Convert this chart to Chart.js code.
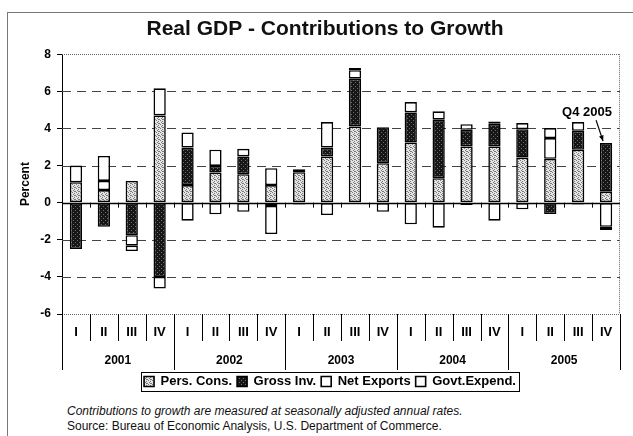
<!DOCTYPE html>
<html>
<head>
<meta charset="utf-8">
<script src="https://cdn.jsdelivr.net/npm/chart.js@4/dist/chart.umd.min.js"></script>
<style>
    body { margin: 0; background: #fff; }
    #wrap { position: relative; width: 633px; height: 436px; overflow: hidden; font-family: "Liberation Sans", Arial, sans-serif; }
    #frame { position: absolute; left: 7px; top: 12px; width: 700px; height: 500px; border-left: 1px solid #777; border-top: 1px solid #777; }
    #gdpChart { position: absolute; left: 0; top: 0; }
    .note { position: absolute; left: 67px; font-size: 12px; line-height: 14px; color: #111; white-space: nowrap; }
</style>
</head>
<body>
<div id="wrap">
    <div id="frame"></div>
    <canvas id="gdpChart" width="633" height="400"></canvas>
    <div class="note" style="top:404px;font-style:italic;">Contributions to growth are measured at seasonally adjusted annual rates.</div>
    <div class="note" style="top:419px;">Source: Bureau of Economic Analysis, U.S. Department of Commerce.</div>
</div>
<script>
const years = ['2001', '2002', '2003', '2004', '2005'];
const quarters = ['I', 'II', 'III', 'IV'];
const yTicks = [-6, -4, -2, 0, 2, 4, 6, 8];

// Contributions to real GDP growth, percentage points, 2001 Q1 .. 2005 Q4
const persCons   = [1.10, 0.68, 1.17, 4.70, 0.95, 1.62, 1.53, 0.95, 1.64, 2.49, 4.11, 2.13, 3.24, 1.32, 3.03, 3.03, 2.43, 2.36, 2.85, 0.59];
const grossInv   = [-2.50, -1.30, -1.75, -4.00, 2.02, 0.36, 0.96, -0.18, 0.16, 0.48, 2.57, 1.94, 1.62, 3.15, 0.90, 1.22, 1.53, -0.61, 1.02, 2.62];
const netExports = [0.00, 0.49, -0.57, -0.63, -0.97, -0.63, -0.49, -1.51, -0.10, -0.67, 0.46, -0.49, -1.17, -1.35, -0.13, -0.97, -0.36, 1.12, -0.10, -1.30];
const govtExpend = [0.90, 1.35, -0.29, 1.46, 0.81, 0.87, 0.41, 0.91, 0.00, 1.37, 0.12, 0.00, 0.56, 0.45, 0.30, 0.13, 0.33, 0.54, 0.47, -0.18];

const calloutText = 'Q4 2005';

const labels = years.flatMap(yr => quarters.map(q => q + ' ' + yr));
const FONT = '"Liberation Sans", Arial, sans-serif';
Chart.defaults.font.family = FONT;
Chart.defaults.color = '#000';

// stippled fills like the printed shading
function makeStipple(bg, dot, cells) {
    const c = document.createElement('canvas');
    c.width = 4;
    c.height = 4;
    const g = c.getContext('2d');
    g.fillStyle = bg;
    g.fillRect(0, 0, 4, 4);
    g.fillStyle = dot;
    cells.forEach(([x, y]) => g.fillRect(x, y, 1, 1));
    return g.createPattern(c, 'repeat');
}
const persFill = makeStipple('#e4e4e4', '#7a7a7a', [[0, 0], [2, 1], [1, 2], [3, 3], [2, 3]]);
const grossFill = makeStipple('#161616', '#6e6e6e', [[1, 0], [3, 2]]);

// dashed grid, dotted frame, solid zero line with small ticks
const gridLines = {
    id: 'gridLines',
    afterLayout(chart) {
        // title and legend sit a little right of the canvas centre
        chart.titleBlock.left += 11;
        chart.titleBlock.right += 11;
        chart.legend.left += 16;
        chart.legend.right += 16;
    },
    beforeDatasetsDraw(chart) {
        const { ctx, chartArea: a, scales: { x, y } } = chart;
        ctx.save();
        yTicks.forEach(v => {
            const py = Math.round(y.getPixelForValue(v)) + 0.5;
            ctx.beginPath();
            if (v === 0) {
                ctx.setLineDash([]);
                ctx.strokeStyle = '#000';
                ctx.lineWidth = 1.3;
            } else if (v === yTicks[0] || v === yTicks[yTicks.length - 1]) {
                ctx.setLineDash([1, 1]);
                ctx.strokeStyle = '#666';
                ctx.lineWidth = 1;
            } else {
                ctx.setLineDash([9, 6]);
                ctx.strokeStyle = '#444';
                ctx.lineWidth = 1;
            }
            ctx.moveTo(a.left, py);
            ctx.lineTo(a.right, py);
            ctx.stroke();
        });
        ctx.setLineDash([1, 1]);
        ctx.strokeStyle = '#666';
        ctx.beginPath();
        ctx.moveTo(a.right - 0.5, a.top);
        ctx.lineTo(a.right - 0.5, a.bottom);
        ctx.stroke();

        ctx.setLineDash([]);
        ctx.strokeStyle = '#000';
        const zy = y.getPixelForValue(0);
        for (let i = 1; i < labels.length; i++) {
            const px = Math.round(x.getPixelForValue(i - 0.5)) + 0.5;
            ctx.beginPath();
            ctx.moveTo(px, zy);
            ctx.lineTo(px, zy + 5);
            ctx.stroke();
        }
        ctx.restore();
    }
};

// quarter / year table under the plot and the legend frame
const quarterTable = {
    id: 'quarterTable',
    afterDraw(chart) {
        const { ctx, chartArea: a, scales: { x } } = chart;
        const base = a.bottom;
        ctx.save();
        ctx.strokeStyle = '#000';
        ctx.lineWidth = 1;
        ctx.fillStyle = '#000';
        ctx.textAlign = 'center';
        ctx.textBaseline = 'middle';
        ctx.font = 'bold 13px ' + FONT;
        labels.forEach((lab, i) => {
            ctx.fillText(quarters[i % 4], x.getPixelForValue(i), base + 18);
        });
        for (let i = 0; i <= labels.length; i++) {
            const px = Math.round(x.getPixelForValue(i - 0.5)) + 0.5;
            ctx.beginPath();
            ctx.moveTo(px, base);
            ctx.lineTo(px, base + (i % 4 === 0 ? 56 : 27));
            ctx.stroke();
        }
        ctx.font = 'bold 12px ' + FONT;
        years.forEach((yr, k) => {
            const cx = (x.getPixelForValue(k * 4 - 0.5) + x.getPixelForValue(k * 4 + 3.5)) / 2;
            ctx.fillText(yr, cx, base + 47);
        });

        const boxes = chart.legend.legendHitBoxes;
        if (boxes.length) {
            const left = Math.min(...boxes.map(b => b.left)) - 3;
            const right = Math.max(...boxes.map(b => b.left + b.width)) + 3;
            const top = boxes[0].top - 3;
            const h = boxes[0].height + 6;
            ctx.strokeRect(Math.round(left) + 0.5, Math.round(top) + 0.5, Math.round(right - left), Math.round(h));
        }
        ctx.restore();
    }
};

// arrow pointing at the latest quarter
const callout = {
    id: 'callout',
    afterDatasetsDraw(chart) {
        const { ctx, scales: { x, y } } = chart;
        const last = labels.length - 1;
        const top = [persCons, grossInv, netExports, govtExpend]
            .reduce((s, arr) => s + Math.max(arr[last], 0), 0);
        const cx = x.getPixelForValue(last);
        const ty = y.getPixelForValue(top);
        ctx.save();
        ctx.fillStyle = '#000';
        ctx.strokeStyle = '#000';
        ctx.font = 'bold 13px ' + FONT;
        ctx.textAlign = 'center';
        ctx.textBaseline = 'middle';
        ctx.fillText(calloutText, cx - 19, ty - 31);
        const x0 = cx - 10, y0 = ty - 23, x1 = cx - 3, y1 = ty - 2;
        ctx.lineWidth = 1.2;
        ctx.beginPath();
        ctx.moveTo(x0, y0);
        ctx.lineTo(x1, y1);
        ctx.stroke();
        const ang = Math.atan2(y1 - y0, x1 - x0);
        ctx.beginPath();
        ctx.moveTo(x1, y1);
        ctx.lineTo(x1 - 6 * Math.cos(ang - 0.4), y1 - 6 * Math.sin(ang - 0.4));
        ctx.lineTo(x1 - 6 * Math.cos(ang + 0.4), y1 - 6 * Math.sin(ang + 0.4));
        ctx.closePath();
        ctx.fill();
        ctx.restore();
    }
};

function barSet(label, data, fill) {
    return {
        label: label,
        data: data,
        backgroundColor: fill,
        borderColor: '#000',
        borderWidth: 1.6,
        borderSkipped: false,
        barPercentage: 0.44,
        categoryPercentage: 1
    };
}

const ctx = document.getElementById('gdpChart').getContext('2d');
new Chart(ctx, {
    type: 'bar',
    data: {
        labels: labels,
        datasets: [
            barSet('Pers. Cons.', persCons, persFill),
            barSet('Gross Inv.', grossInv, grossFill),
            barSet('Net Exports', netExports, '#ffffff'),
            barSet('Govt.Expend.', govtExpend, '#fdfdfd')
        ]
    },
    options: {
        responsive: false,
        animation: false,
        layout: {
            padding: { left: 8, right: 13, top: 12, bottom: 2 }
        },
        scales: {
            x: {
                stacked: true,
                ticks: { display: false },
                grid: { display: false },
                border: { display: false },
                afterFit: s => { s.height = 56; }
            },
            y: {
                stacked: true,
                min: yTicks[0],
                max: yTicks[yTicks.length - 1],
                afterBuildTicks: s => { s.ticks = yTicks.map(v => ({ value: v })); },
                afterFit: s => { s.width = 54; },
                title: {
                    display: true,
                    text: 'Percent',
                    font: { size: 12, weight: 'bold' },
                    padding: { top: 10, bottom: 0 }
                },
                ticks: {
                    padding: 6,
                    font: { size: 12, weight: 'bold' },
                    color: '#000'
                },
                grid: {
                    drawOnChartArea: false,
                    drawTicks: true,
                    tickLength: 5,
                    tickColor: '#000'
                },
                border: { display: true, color: '#000', width: 1 }
            }
        },
        plugins: {
            title: {
                display: true,
                text: 'Real GDP - Contributions to Growth',
                font: { size: 21, weight: 'bold' },
                color: '#111',
                padding: { top: 5, bottom: 12 }
            },
            legend: {
                position: 'bottom',
                labels: {
                    boxWidth: 10,
                    boxHeight: 10,
                    padding: 5,
                    color: '#000',
                    font: { size: 13, weight: 'bold' }
                }
            },
            tooltip: { enabled: false }
        }
    },
    plugins: [gridLines, quarterTable, callout]
});
</script>
</body>
</html>
